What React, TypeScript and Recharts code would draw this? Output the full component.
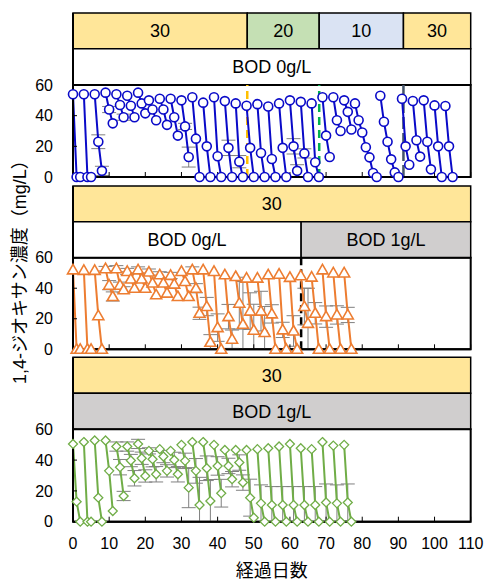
import React from 'react';
import { ComposedChart, Line, XAxis, YAxis, ReferenceArea, ReferenceLine, ErrorBar } from 'recharts';

// ---------- tick labels ----------
const xTicks = [0, 10, 20, 30, 40, 50, 60, 70, 80, 90, 100, 110];
const yTicks = [0, 20, 40, 60];

// ---------- header labels ----------
const topStages = [
  { from: 0, to: 48.2, label: '30', fill: '#FFE699' },
  { from: 48.2, to: 68.1, label: '20', fill: '#C5E0B4' },
  { from: 68.1, to: 91.4, label: '10', fill: '#DAE3F3' },
  { from: 91.4, to: 110, label: '30', fill: '#FFE699' },
];
const topBod = [{ from: 0, to: 110, label: 'BOD 0g/L', fill: '#FFFFFF' }];
const midStages = [{ from: 0, to: 110, label: '30', fill: '#FFE699' }];
const midBod = [
  { from: 0, to: 63.1, label: 'BOD 0g/L', fill: '#FFFFFF' },
  { from: 63.1, to: 110, label: 'BOD 1g/L', fill: '#D0CECE' },
];
const lowStages = [{ from: 0, to: 110, label: '30', fill: '#FFE699' }];
const lowBod = [{ from: 0, to: 110, label: 'BOD 1g/L', fill: '#D0CECE' }];

// ---------- panel 1 (blue) ----------
const blueStarts = [0, 3, 6, 9, 12, 15, 18, 21, 24, 27, 30, 33, 36, 39, 42, 45, 48, 51, 54, 57, 60, 63, 66, 69, 72, 75, 78, 85, 91, 94, 97, 100, 103];
const blueValues = [
  [54, 0, 0], [54, 0, 0], [54, 23, 4], [55, 44, 35], [54, 47, 39], [53, 46.5, 39],
  [55, 48, 41.5], [50, 44, 37], [51, 44, 34], [51, 39, 27], [50, 33, 13], [52, 25, 0],
  [48.5, 20, 0], [52, 13.5, 0], [49.5, 19, 0], [48, 10, 0], [46.5, 19, 0], [47.5, 15.7, 0],
  [46, 11.7, 0], [48, 19, 0], [50, 20, 4], [49, 15.4, 0], [48, 9.6, 0], [52, 27, 13],
  [52, 37, 30], [50, 42.5, 31], [48, 37, 29, 19.4, 12.8, 2.6, 0], [53, 36, 23, 11.5, 3, 0],
  [51, 20, 8], [49.6, 24, 13.3], [50, 23, 5], [46.7, 20, 0], [46.3, 20, 0],
];
const blueErrors: [number, number][] = [
  [7, 4.5], [8, 3], [10, 2], [14, 2], [31, 2], [32, 6.5], [43, 5], [46, 4], [61, 5], [62, 4], [64, 3],
];
const blueDashes = [
  { day: 48.2, color: '#FFC000', dash: '8 5' },
  { day: 68.1, color: '#00B050', dash: '8 5' },
  { day: 91.4, color: '#44546A', dash: '12 4' },
];

// ---------- panel 2 (orange) ----------
const orangeStarts = [0, 3, 6, 9, 12, 15, 18, 21, 24, 27, 30, 33, 36, 39, 42, 45, 48, 51, 54, 57, 60, 63, 66, 69, 72, 75];
const orangeValues = [
  [52, 0, 0], [51.7, 0, 0], [51.7, 22, 0], [52.8, 42, 34.6], [52.8, 42, 39], [51, 46, 40],
  [52, 46, 40], [50.6, 43.4, 35.7], [48.8, 43.4, 36.8], [48.4, 42.7, 34.6], [51, 44.4, 34.6],
  [52, 40, 23.6], [52, 28, 4.6], [51, 14.2, 0], [48.8, 21.4, 6.6], [47.7, 30.2, 16.4],
  [46.6, 25, 12.5], [46.6, 25, 11], [48.8, 23.2, 0], [49.2, 12.7, 0], [47.1, 12, 0],
  [48.2, 28, 17], [47.3, 23.6, 0], [52, 21.4, 0], [50, 22.5, 0], [50, 22.5, 0],
];
const orangeErrors: [number, number][] = [
  [9, 1.5], [10, 3], [11, 3], [12, 2], [13, 2], [14, 2], [15, 2], [18, 2], [21, 2], [24, 2], [27, 2],
  [33, 2], [34, 3], [35, 4], [37, 6], [38, 5], [40, 9], [43, 8], [44, 6], [46, 17], [47, 28],
  [49, 12], [50, 17], [52, 13], [53, 17], [55, 6], [58, 5], [61, 10], [64, 12], [65, 23],
  [67, 7], [70, 7], [73, 6], [76, 5],
];
const orangeDashes = [{ day: 63.1, color: '#000000', dash: '8 4' }];

// ---------- panel 3 (green) ----------
const greenStarts = [0, 3, 6, 9, 12, 15, 18, 21, 24, 27, 30, 33, 36, 39, 42, 45, 48, 51, 54, 57, 60, 63, 66, 69, 72, 75];
const greenValues = [
  [50.5, 13, 0], [51.7, 0, 0], [52.7, 15.6, 0], [52.7, 33, 6.9], [48.8, 35.4, 16.7],
  [48.8, 39.7, 28.2], [50.5, 41.2, 29.7], [46, 40.6, 30.8], [47.1, 42.3, 33], [46, 40.1, 30.8],
  [49.9, 39.5, 22.1], [51.7, 33, 10.8], [51.7, 34.7, 13.4], [49.9, 36.2, 18.5], [46.6, 36.2, 27.6],
  [46.6, 38.4, 25.4], [46.6, 15.6, 2.6], [47.1, 11.9, 0], [47.7, 10.8, 0], [48.8, 10.8, 0],
  [50.5, 10.8, 0], [47.7, 10.8, 0], [47.1, 10.8, 0], [51.7, 12.5, 0], [49.4, 11.9, 0], [49.9, 12.5, 0],
];
const greenErrors: [number, number][] = [
  [12, 3], [15, 3], [18, 3], [21, 2], [13, 5], [14, 3], [16, 4], [17, 5], [19, 4], [20, 4], [22, 5],
  [23, 5], [25, 4], [26, 4], [28, 5], [29, 5], [31, 5], [32, 13], [34, 8], [35, 18], [37, 8],
  [38, 14], [40, 6], [41, 9], [43, 5], [44, 5], [46, 5], [47, 5], [49, 12], [52, 12], [55, 12],
  [58, 12], [61, 12], [64, 12], [67, 12], [70, 12], [73, 12], [76, 12],
];

const BLUE = '#0A0AC8';
const ORANGE = '#ED7D31';
const GREEN = '#70AD47';
const FONT = "'Liberation Sans', Arial, 'Noto Sans CJK JP', sans-serif";

type Row = { day: number; v: number | null; e?: [number, number] };

function buildRows(starts: number[], values: number[][], errors: [number, number][]): Row[] {
  const errMap = new Map<number, number>(errors);
  const rows: Row[] = [];
  starts.forEach((s, i) => {
    values[i].forEach((v, j) => {
      const err = errMap.get(s + j);
      // error bars stop at the x axis (concentration cannot be negative)
      rows.push({ day: s + j, v, e: err != null ? [Math.min(err, v), err] : undefined });
    });
    rows.push({ day: s + values[i].length - 0.5, v: null });
  });
  return rows;
}

const circleDot = (p: any) => {
  if (p.payload?.v == null || p.cy == null) return <g key={`c${p.index}`} />;
  return <circle key={`c${p.index}`} cx={p.cx} cy={p.cy} r={4.5} fill="#fff" stroke={BLUE} strokeWidth={1.6} />;
};
const triangleDot = (p: any) => {
  if (p.payload?.v == null || p.cy == null) return <g key={`t${p.index}`} />;
  const { cx, cy } = p;
  return (
    <polygon key={`t${p.index}`} points={`${cx},${cy - 5.5} ${cx + 5.5},${cy + 4} ${cx - 5.5},${cy + 4}`}
      fill="#fff" stroke={ORANGE} strokeWidth={1.6} strokeLinejoin="miter" />
  );
};
const diamondDot = (p: any) => {
  if (p.payload?.v == null || p.cy == null) return <g key={`d${p.index}`} />;
  const { cx, cy } = p;
  return (
    <polygon key={`d${p.index}`} points={`${cx},${cy - 4.5} ${cx + 4.5},${cy} ${cx},${cy + 4.5} ${cx - 4.5},${cy}`}
      fill="#fff" stroke={GREEN} strokeWidth={1.3} />
  );
};

type Seg = { from: number; to: number; label: string; fill: string };
type Dash = { day: number; color: string; dash: string };

type PanelProps = {
  chartTop: number;
  plotTop: number;
  split: number;
  dataTop: number;
  plotBottom: number;
  axisHeight: number;
  stages: Seg[];
  bod: Seg[];
  rows: Row[];
  color: string;
  dot: (p: any) => React.ReactElement;
  dashes: Dash[];
  showXLabels: boolean;
  yLabel?: string;
};

function Panel(props: PanelProps) {
  const { chartTop, plotTop, split, dataTop, plotBottom, axisHeight } = props;
  const unitsPerPx = 60 / (plotBottom - dataTop);
  const yMax = (plotBottom - plotTop) * unitsPerPx;
  const ySplit = (plotBottom - split) * unitsPerPx;
  const height = plotBottom - chartTop + axisHeight;
  return (
    <div style={{ position: 'absolute', left: 0, top: chartTop }}>
      <ComposedChart width={488} height={height} data={props.rows}
        margin={{ top: plotTop - chartTop, right: 17.3, bottom: 0, left: 0 }}>
        <XAxis dataKey="day" type="number" domain={[0, 110]} ticks={xTicks}
          height={axisHeight} axisLine={{ stroke: '#000', strokeWidth: 2 }}
          tickLine={{ stroke: '#000', strokeWidth: 1 }} tickSize={-5} tickMargin={props.showXLabels ? 21 : 0}
          tick={{ fill: '#000', fontSize: 16 }}
          tickFormatter={props.showXLabels ? (v: number) => String(v) : () => ''}
          interval={0}
          label={props.showXLabels ? { value: '経過日数', position: 'insideBottom', offset: 3, fontSize: 18, fill: '#000' } : undefined}
        />
        <YAxis type="number" domain={[0, yMax]} ticks={yTicks} width={73}
          axisLine={{ stroke: '#000', strokeWidth: 2 }} tickLine={{ stroke: '#000', strokeWidth: 1 }}
          tickSize={-4} tickMargin={24} tick={{ fill: '#000', fontSize: 16 }} interval={0}
          label={props.yLabel ? { value: props.yLabel, angle: -90, position: 'insideLeft', offset: 20, fontSize: 18, fill: '#000', style: { textAnchor: 'middle' } } : undefined}
        />
        {props.stages.map((s, i) => (
          <ReferenceArea key={`s${i}`} x1={s.from} x2={s.to} y1={ySplit} y2={yMax} fill={s.fill} fillOpacity={1}
            stroke="#000" strokeWidth={1.5}
            label={{ value: s.label, position: 'center', fontSize: 18, fill: '#000' }} />
        ))}
        {props.bod.map((s, i) => (
          <ReferenceArea key={`b${i}`} x1={s.from} x2={s.to} y1={60} y2={ySplit} fill={s.fill} fillOpacity={1}
            stroke="#000" strokeWidth={1.5}
            label={{ value: s.label, position: 'center', fontSize: 18, fill: '#000' }} />
        ))}
        <ReferenceArea x1={0} x2={110} y1={0} y2={60} fill="none" fillOpacity={0} stroke="#000" strokeWidth={2} />
        {props.dashes.map((d, i) => (
          <ReferenceLine key={`l${i}`} segment={[{ x: d.day, y: 0 }, { x: d.day, y: 60 }]}
            stroke={d.color} strokeWidth={2.5} strokeDasharray={d.dash} />
        ))}
        <Line type="linear" dataKey="v" stroke={props.color} strokeWidth={2} dot={props.dot as any}
          activeDot={false} isAnimationActive={false} connectNulls={false}>
          <ErrorBar dataKey="e" width={7} stroke="#7F7F7F" strokeWidth={1} direction="y" />
        </Line>
      </ComposedChart>
    </div>
  );
}

export default function App() {
  const blueRows = buildRows(blueStarts, blueValues, blueErrors);
  const orangeRows = buildRows(orangeStarts, orangeValues, orangeErrors);
  const greenRows = buildRows(greenStarts, greenValues, greenErrors);
  return (
    <div style={{ position: 'absolute', left: 0, top: 0, width: 488, height: 580, background: '#fff', fontFamily: FONT }}>
      <style>{'.recharts-surface { overflow: visible; } .recharts-wrapper { overflow: visible; }'}</style>
      <Panel chartTop={0} plotTop={13} split={48.7} dataTop={85} plotBottom={177} axisHeight={4}
        stages={topStages} bod={topBod} rows={blueRows} color={BLUE} dot={circleDot}
        dashes={blueDashes} showXLabels={false} />
      <Panel chartTop={182} plotTop={186} split={221.7} dataTop={257.7} plotBottom={349.3} axisHeight={4}
        stages={midStages} bod={midBod} rows={orangeRows} color={ORANGE} dot={triangleDot}
        dashes={orangeDashes} showXLabels={false} yLabel="1,4-ジオキサン濃度（mg/L）" />
      <Panel chartTop={354} plotTop={357.3} split={393.3} dataTop={429.3} plotBottom={521.7} axisHeight={58}
        stages={lowStages} bod={lowBod} rows={greenRows} color={GREEN} dot={diamondDot}
        dashes={[]} showXLabels={true} />
    </div>
  );
}
